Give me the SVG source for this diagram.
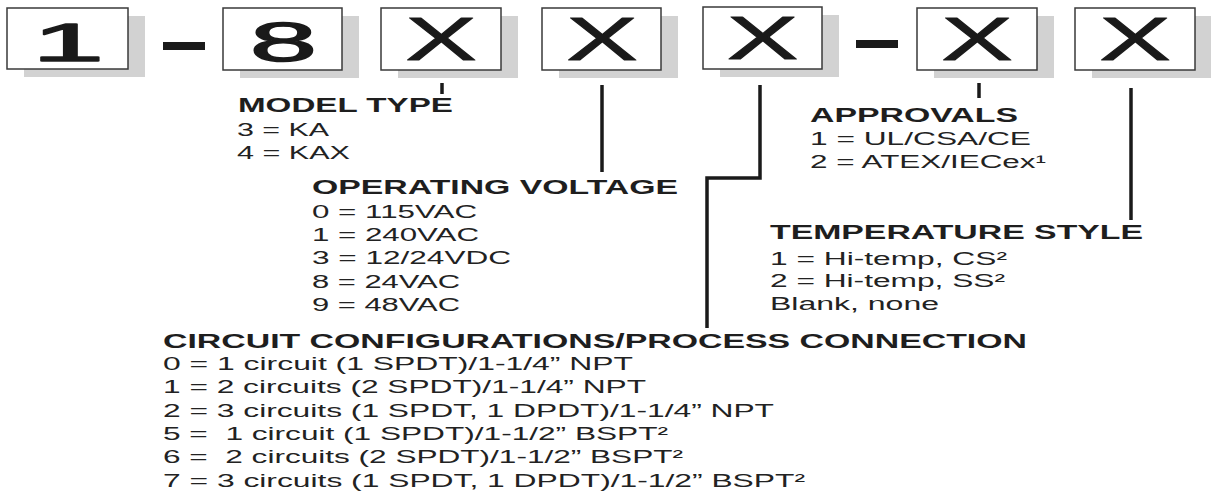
<svg xmlns="http://www.w3.org/2000/svg" width="1211" height="491" viewBox="0 0 1211 491">
<style>
.bg{fill:#ffffff}
.box{fill:#ffffff;stroke:#3a3a3a;stroke-width:1.5}
.sh{fill:#d2d2d2}
.big{font-family:"Liberation Sans",Arial,sans-serif;font-size:61px;fill:#1a1a1a;stroke:#1a1a1a;stroke-width:1;stroke-linejoin:round;text-anchor:middle}
.dig{stroke-width:1.4}
.h{font-family:"Liberation Sans",Arial,sans-serif;font-size:19.5px;font-weight:bold;fill:#1e1e1e}
.t{font-family:"Liberation Sans",Arial,sans-serif;font-size:17.5px;fill:#222222}
.ln{fill:none;stroke:#1a1a1a;stroke-width:3.5}
.dash{fill:#1a1a1a}
</style>
<rect class="bg" x="0" y="0" width="1211" height="491"/>

<g id="box1">
<rect class="sh" x="24" y="16" width="121" height="61"/>
<rect class="box" x="7" y="8" width="121" height="61"/>
<text class="big dig" style="font-size:53px" transform="translate(68,60.5) scale(2.45,1)">1</text>
</g>
<g id="dash1"><rect class="dash" x="163" y="42" width="42" height="8"/></g>
<g id="box2">
<rect class="sh" x="240" y="16" width="119" height="62"/>
<rect class="box" x="223" y="8" width="119" height="62"/>
<text class="big dig" style="font-size:55px" transform="translate(283.5,61) scale(2.2,1)">8</text>
</g>
<g id="box3">
<rect class="sh" x="398" y="16" width="120" height="62"/>
<rect class="box" x="381" y="8" width="120" height="62"/>
<text class="big" transform="translate(441,59.5) scale(1.76,1)">X</text>
</g>
<g id="box4">
<rect class="sh" x="559" y="16" width="119" height="62"/>
<rect class="box" x="542" y="8" width="119" height="62"/>
<text class="big" transform="translate(602,59.5) scale(1.76,1)">X</text>
</g>
<g id="box5">
<rect class="sh" x="720" y="15" width="119" height="62"/>
<rect class="box" x="703" y="7" width="119" height="62"/>
<text class="big" transform="translate(762.5,58.5) scale(1.76,1)">X</text>
</g>
<g id="dash2"><rect class="dash" x="856" y="40" width="42" height="8"/></g>
<g id="box6">
<rect class="sh" x="934" y="16" width="120" height="62"/>
<rect class="box" x="917" y="8" width="120" height="62"/>
<text class="big" transform="translate(977,59.5) scale(1.76,1)">X</text>
</g>
<g id="box7">
<rect class="sh" x="1092" y="16" width="120" height="62"/>
<rect class="box" x="1075" y="8" width="120" height="62"/>
<text class="big" transform="translate(1135,59.5) scale(1.76,1)">X</text>
</g>

<g id="connectors">
<line class="ln" x1="442" y1="83" x2="442" y2="94"/>
<line class="ln" x1="602" y1="85" x2="602" y2="172"/>
<polyline class="ln" points="760,85 760,178 707,178 707,328"/>
<line class="ln" x1="979" y1="83" x2="979" y2="98"/>
<line class="ln" x1="1131" y1="88" x2="1131" y2="220"/>
</g>

<g id="model-type">
<text class="h" x="238" y="112" textLength="215" lengthAdjust="spacingAndGlyphs">MODEL TYPE</text>
<text class="t" x="237" y="135.5" textLength="92" lengthAdjust="spacingAndGlyphs">3 = KA</text>
<text class="t" x="237" y="158.5" textLength="113" lengthAdjust="spacingAndGlyphs">4 = KAX</text>
</g>

<g id="operating-voltage">
<text class="h" x="312" y="194" textLength="366" lengthAdjust="spacingAndGlyphs">OPERATING VOLTAGE</text>
<text class="t" x="312" y="218" textLength="165" lengthAdjust="spacingAndGlyphs">0 = 115VAC</text>
<text class="t" x="312" y="241" textLength="167" lengthAdjust="spacingAndGlyphs">1 = 240VAC</text>
<text class="t" x="312" y="264" textLength="199" lengthAdjust="spacingAndGlyphs">3 = 12/24VDC</text>
<text class="t" x="312" y="288" textLength="148" lengthAdjust="spacingAndGlyphs">8 = 24VAC</text>
<text class="t" x="312" y="311" textLength="148" lengthAdjust="spacingAndGlyphs">9 = 48VAC</text>
</g>

<g id="approvals">
<text class="h" x="810" y="122" textLength="208" lengthAdjust="spacingAndGlyphs">APPROVALS</text>
<text class="t" x="810" y="145" textLength="221" lengthAdjust="spacingAndGlyphs">1 = UL/CSA/CE</text>
<text class="t" x="810" y="168" textLength="236" lengthAdjust="spacingAndGlyphs">2 = ATEX/IECex¹</text>
</g>

<g id="temperature-style">
<text class="h" x="770" y="239" textLength="373" lengthAdjust="spacingAndGlyphs">TEMPERATURE STYLE</text>
<text class="t" x="770" y="265" textLength="237" lengthAdjust="spacingAndGlyphs">1 = Hi-temp, CS²</text>
<text class="t" x="770" y="287" textLength="235" lengthAdjust="spacingAndGlyphs">2 = Hi-temp, SS²</text>
<text class="t" x="770" y="310" textLength="169" lengthAdjust="spacingAndGlyphs">Blank, none</text>
</g>

<g id="circuit-configurations">
<text class="h" x="163" y="348" textLength="864" lengthAdjust="spacingAndGlyphs">CIRCUIT CONFIGURATIONS/PROCESS CONNECTION</text>
<text class="t" x="163" y="370" textLength="470" lengthAdjust="spacingAndGlyphs">0 = 1 circuit (1 SPDT)/1-1/4” NPT</text>
<text class="t" x="163" y="393" textLength="483" lengthAdjust="spacingAndGlyphs">1 = 2 circuits (2 SPDT)/1-1/4” NPT</text>
<text class="t" x="163" y="417" textLength="611" lengthAdjust="spacingAndGlyphs">2 = 3 circuits (1 SPDT, 1 DPDT)/1-1/4” NPT</text>
<text class="t" x="163" y="440" textLength="505" lengthAdjust="spacingAndGlyphs">5 = &#160;1 circuit (1 SPDT)/1-1/2” BSPT²</text>
<text class="t" x="163" y="463" textLength="520" lengthAdjust="spacingAndGlyphs">6 = &#160;2 circuits (2 SPDT)/1-1/2” BSPT²</text>
<text class="t" x="163" y="487" textLength="642" lengthAdjust="spacingAndGlyphs">7 = 3 circuits (1 SPDT, 1 DPDT)/1-1/2” BSPT²</text>
</g>
</svg>
